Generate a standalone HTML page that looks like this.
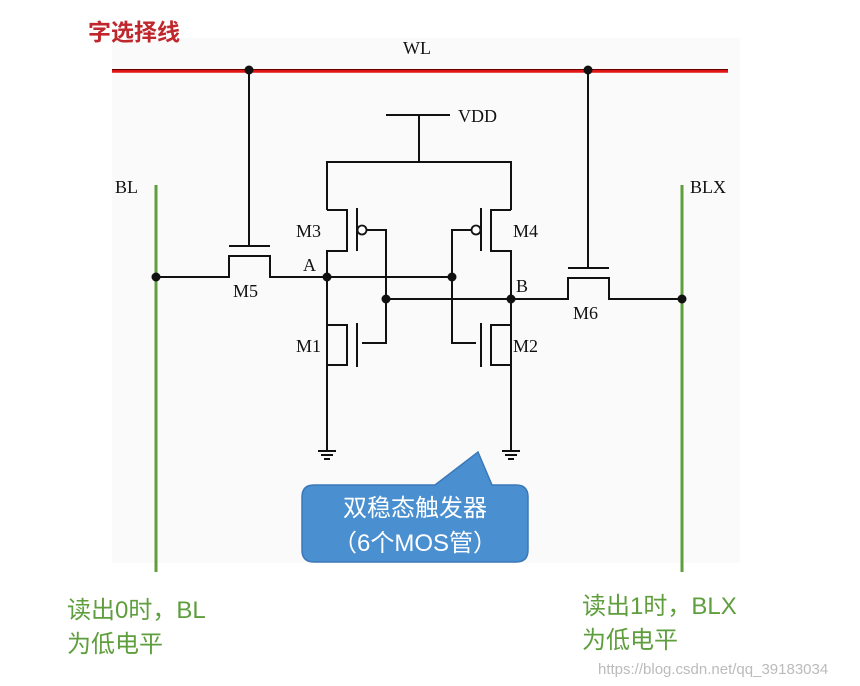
<!DOCTYPE html>
<html><head><meta charset="utf-8"><style>
html,body{margin:0;padding:0;background:#fff;}
svg{display:block;}
</style></head><body>
<svg width="860" height="686" viewBox="0 0 860 686" xmlns="http://www.w3.org/2000/svg">
<rect x="0" y="0" width="860" height="686" fill="#fff"/>
<rect x="112" y="38" width="628" height="525" fill="#fafafa"/>
<text x="88" y="40" font-family="Liberation Sans, Noto Sans CJK SC, sans-serif" font-size="23" fill="#c0272d" font-weight="bold">字选择线</text>
<text x="403" y="54" font-family="Liberation Serif, serif" font-size="18" fill="#111">WL</text>
<line x1="112" y1="71" x2="728" y2="71" stroke="#e01515" stroke-width="3.5"/>
<line x1="112" y1="69.5" x2="728" y2="69.5" stroke="#600" stroke-width="1"/>
<g stroke="#111" stroke-width="2" fill="none">
<line x1="249" y1="71" x2="249" y2="246"/>
<line x1="588" y1="71" x2="588" y2="268"/>
<line x1="386" y1="115" x2="450" y2="115"/>
<line x1="419" y1="115" x2="419" y2="162"/>
<polyline points="327,210 327,162 511,162 511,210"/>
<polyline points="327,210 347,210 347,251 327,251 327,450"/>
<line x1="357" y1="208" x2="357" y2="251"/>
<polyline points="366,230 386,230 386,299"/>
<polyline points="511,210 491,210 491,251 511,251 511,450"/>
<line x1="481" y1="208" x2="481" y2="251"/>
<polyline points="472,230 452,230 452,343 476,343"/>
<polyline points="327,325 347,325 347,365 327,365"/>
<line x1="357" y1="323" x2="357" y2="367"/>
<polyline points="362,343 386,343 386,299"/>
<polyline points="511,325 491,325 491,365 511,365"/>
<line x1="481" y1="323" x2="481" y2="367"/>
<line x1="327" y1="277" x2="452" y2="277"/>
<line x1="386" y1="299" x2="511" y2="299"/>
<polyline points="156,277 229,277 229,256 270,256 270,277 327,277"/>
<line x1="229" y1="246" x2="270" y2="246"/>
<polyline points="511,299 568,299 568,278 609,278 609,299 682,299"/>
<line x1="568" y1="268" x2="609" y2="268"/>
<line x1="318" y1="451" x2="336" y2="451"/>
<line x1="321" y1="455" x2="333" y2="455"/>
<line x1="324" y1="459" x2="330" y2="459"/>
<line x1="502" y1="451" x2="520" y2="451"/>
<line x1="505" y1="455" x2="517" y2="455"/>
<line x1="508" y1="459" x2="514" y2="459"/>
</g>
<circle cx="362" cy="230" r="4.5" fill="#fff" stroke="#111" stroke-width="1.8"/>
<circle cx="476" cy="230" r="4.5" fill="#fff" stroke="#111" stroke-width="1.8"/>
<line x1="156" y1="185" x2="156" y2="572" stroke="#5e9e3c" stroke-width="3"/>
<line x1="682" y1="185" x2="682" y2="572" stroke="#5e9e3c" stroke-width="3"/>
<g fill="#111">
<circle cx="249" cy="70" r="4.5"/><circle cx="588" cy="70" r="4.5"/>
<circle cx="156" cy="277" r="4.5"/><circle cx="682" cy="299" r="4.5"/>
<circle cx="327" cy="277" r="4.5"/><circle cx="452" cy="277" r="4.5"/>
<circle cx="386" cy="299" r="4.5"/><circle cx="511" cy="299" r="4.5"/>
</g>
<g font-family="Liberation Serif, serif" font-size="18" fill="#111">
<text x="458" y="122">VDD</text>
<text x="115" y="193">BL</text>
<text x="690" y="193">BLX</text>
<text x="296" y="237">M3</text>
<text x="513" y="237">M4</text>
<text x="303" y="271">A</text>
<text x="516" y="292">B</text>
<text x="233" y="297">M5</text>
<text x="573" y="319">M6</text>
<text x="296" y="352">M1</text>
<text x="513" y="352">M2</text>
</g>
<path d="M314,485 L435,485 L478,452 L492,485 L516,485 Q528,485 528,497 L528,550 Q528,562 516,562 L314,562 Q302,562 302,550 L302,497 Q302,485 314,485 Z" fill="#4a8fd0" stroke="#3a78b8" stroke-width="1.5"/>
<text x="415" y="516" text-anchor="middle" font-family="Liberation Sans, Noto Sans CJK SC, sans-serif" font-size="24" fill="#fff">双稳态触发器</text>
<text x="415" y="551" text-anchor="middle" font-family="Liberation Sans, Noto Sans CJK SC, sans-serif" font-size="24" fill="#fff">（6个MOS管）</text>
<g font-family="Liberation Sans, Noto Sans CJK SC, sans-serif" font-size="24" fill="#5e9e3c">
<text x="67" y="618">读出0时，BL</text>
<text x="67" y="652">为低电平</text>
<text x="582" y="614">读出1时，BLX</text>
<text x="582" y="648">为低电平</text>
</g>
<text x="598" y="674" font-family="Liberation Sans, sans-serif" font-size="15" fill="#bbb">https://blog.csdn.net/qq_39183034</text>
</svg>
</body></html>
